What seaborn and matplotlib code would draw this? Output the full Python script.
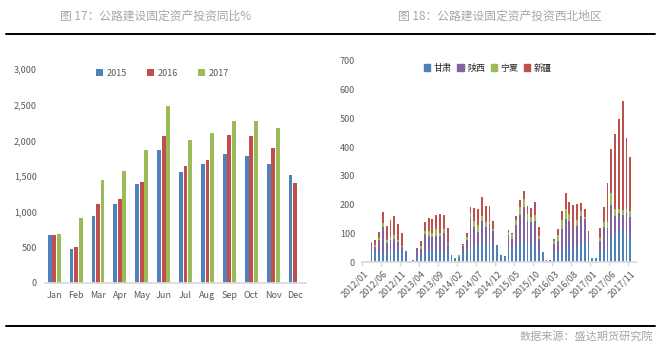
import numpy as np
import pandas as pd
import matplotlib
matplotlib.use("Agg")
import matplotlib.pyplot as plt
import seaborn as sns
from matplotlib.lines import Line2D
from matplotlib.patches import Patch
from matplotlib.ticker import FuncFormatter

# ---- data: figure 17 (monthly highway fixed-asset investment, 3 years) ----
months = ['Jan', 'Feb', 'Mar', 'Apr', 'May', 'Jun',
          'Jul', 'Aug', 'Sep', 'Oct', 'Nov', 'Dec']
years = ['2015', '2016', '2017']
inv_2015 = [669, 473, 941, 1105, 1385, 1863, 1554, 1666, 1807, 1778, 1666, 1512]
inv_2016 = [670, 501, 1105, 1175, 1413, 2059, 1638, 1722, 2073, 2059, 1891, 1399]
inv_2017 = [688, 908, 1441, 1568, 1863, 2480, 2003, 2101, 2270, 2270, 2172, np.nan]

# ---- data: figure 18 (north-west provinces, 2012/01 - 2017/12) ----
periods = [f'{y}/{m:02d}' for y in range(2012, 2018) for m in range(1, 13)]
provinces = ['甘肃', '陕西', '宁夏', '新疆']
gansu = [0, 0, 42, 30, 30, 30, 30, 40, 45, 37, 33, 38,
         3, 7, 19, 22, 30, 42, 42, 42, 42, 30, 30, 24,
         14, 16, 30, 40, 50, 60, 53, 69, 65, 65, 53, 59,
         24, 21, 42, 50, 57, 71, 69, 59, 65, 63, 40, 35,
         7, 7, 30, 35, 37, 60, 51, 48, 52, 67, 70, 56,
         14, 14, 35, 41, 44, 87, 105, 110, 107, 103, 91, 0]
shaanxi = [0, 0, 23, 23, 48, 92, 37, 37, 35, 33, 19, 0,
           0, 0, 25, 23, 69, 49, 46, 50, 49, 70, 33, 0,
           0, 0, 25, 36, 104, 62, 52, 74, 57, 67, 55, 0,
           0, 0, 51, 30, 72, 93, 123, 84, 74, 80, 40, 0,
           0, 0, 33, 38, 78, 90, 92, 62, 72, 93, 79, 43,
           0, 0, 37, 81, 76, 113, 55, 60, 56, 67, 64, 0]
ningxia = [0, 0, 5, 6, 6, 13, 10, 10, 15, 7, 5, 0,
           0, 0, 0, 11, 9, 17, 12, 22, 11, 15, 3, 0,
           0, 8, 3, 11, 17, 21, 24, 17, 18, 7, 7, 0,
           0, 0, 13, 18, 17, 28, 28, 24, 19, 21, 11, 0,
           0, 0, 10, 21, 32, 35, 24, 0, 21, 16, 8, 0,
           0, 0, 10, 18, 20, 41, 26, 16, 17, 16, 22, 0]
xinjiang = [0, 0, 0, 18, 21, 39, 48, 59, 65, 55, 44, 0,
            0, 0, 5, 17, 31, 45, 50, 50, 65, 49, 52, 0,
            0, 0, 5, 13, 21, 45, 56, 66, 55, 56, 28, 0,
            0, 0, 6, 3, 14, 24, 27, 28, 30, 45, 31, 0,
            0, 0, 7, 21, 31, 55, 42, 87, 58, 28, 26, 8,
            0, 0, 35, 52, 136, 153, 259, 312, 380, 245, 188, 0]

BLUE, RED, GREEN, PURPLE = '#4F81BD', '#C0504D', '#9BBB59', '#8064A2'
TXT = '#595959'
GREY = '#a6a6a6'

sns.set_theme(style='white')
plt.rcParams['font.family'] = ['Noto Sans CJK SC', 'DejaVu Sans']

W, H = 665, 353
fig = plt.figure(figsize=(W / 100, H / 100), dpi=100)


def px_axes(left, top, right, bottom):
    return fig.add_axes([left / W, 1 - bottom / H, (right - left) / W, (bottom - top) / H])


# ---------------- left chart ----------------
ax1 = px_axes(45, 69, 306, 283)
df = pd.DataFrame({
    'month': months * 3,
    'year': np.repeat(years, len(months)),
    'value': inv_2015 + inv_2016 + inv_2017,
})
sns.barplot(data=df, x='month', y='value', hue='year', order=months,
            palette=[BLUE, RED, GREEN], width=0.62, gap=0.15,
            saturation=1, errorbar=None, linewidth=0, ax=ax1)
ax1.set_xlim(-0.42, 11.5)
ax1.set_ylim(0, 3000)
ax1.set_yticks(range(0, 3001, 500))
ax1.yaxis.set_major_formatter(FuncFormatter(lambda v, p: f'{int(v):,}'))
ax1.set_xlabel('')
ax1.set_ylabel('')
for s in ['top', 'right', 'left']:
    ax1.spines[s].set_visible(False)
ax1.spines['bottom'].set_color('#d9d9d9')
ax1.tick_params(length=0, labelsize=6.5, colors=TXT, pad=6)
ax1.tick_params(axis='y', pad=6)
ax1.legend(ncol=3, loc='center', bbox_to_anchor=(0.45, 0.98), frameon=False,
           fontsize=6.5, handlelength=0.7, handleheight=0.7,
           handletextpad=0.4, columnspacing=2.3, labelcolor=TXT)

# ---------------- right chart (stacked) ----------------
ax2 = px_axes(362, 61, 636, 262)
layers = [gansu, shaanxi, ningxia, xinjiang]
colors = [BLUE, PURPLE, GREEN, RED]
cums = np.cumsum(np.array(layers, dtype=float), axis=0)
# draw tallest stack first so lower segments are painted over it
for i in range(len(layers) - 1, -1, -1):
    sns.barplot(x=periods, y=cums[i], order=periods, color=colors[i],
                width=0.48, saturation=1, errorbar=None, linewidth=0, ax=ax2)
ax2.set_xlim(-0.5, len(periods) - 0.5)
ax2.set_ylim(0, 700)
ax2.set_yticks(range(0, 701, 100))
tick_idx = list(range(0, len(periods), 5))
ax2.set_xticks(tick_idx)
ax2.set_xticklabels([periods[i] for i in tick_idx], rotation=45, ha='right',
                    rotation_mode='anchor')
ax2.set_xticks([i - 0.5 for i in tick_idx], minor=True)
for s in ['top', 'right', 'left']:
    ax2.spines[s].set_visible(False)
ax2.spines['bottom'].set_color('#d9d9d9')
ax2.tick_params(length=0, labelsize=6.5, colors=TXT, pad=5)
ax2.tick_params(axis='y', pad=5)
ax2.tick_params(axis='x', which='minor', length=3, color='#d9d9d9', bottom=True)
handles = [Patch(color=c) for c in colors]
ax2.legend(handles, provinces, ncol=4, loc='center', bbox_to_anchor=(0.46, 0.965),
           frameon=False, fontsize=6.5, handlelength=0.7, handleheight=0.7,
           handletextpad=0.4, columnspacing=0.6, labelcolor='#262626')

# ---------------- titles, rules and source ----------------
fig.text(60 / W, 1 - 16 / H, '图 17：公路建设固定资产投资同比%', fontsize=8.5,
         color=GREY, va='center', ha='left')
fig.text(398 / W, 1 - 16 / H, '图 18：公路建设固定资产投资西北地区', fontsize=8.5,
         color=GREY, va='center', ha='left')
fig.add_artist(Line2D([6 / W, 655 / W], [1 - 34 / H, 1 - 34 / H], color='black', lw=1.4))
fig.add_artist(Line2D([6 / W, 655 / W], [1 - 326 / H, 1 - 326 / H], color='black', lw=1.4))
fig.text(653 / W, 1 - 336 / H, '数据来源：盛达期货研究院', fontsize=8,
         color=GREY, va='center', ha='right')

fig.savefig('out.png', dpi=100)
